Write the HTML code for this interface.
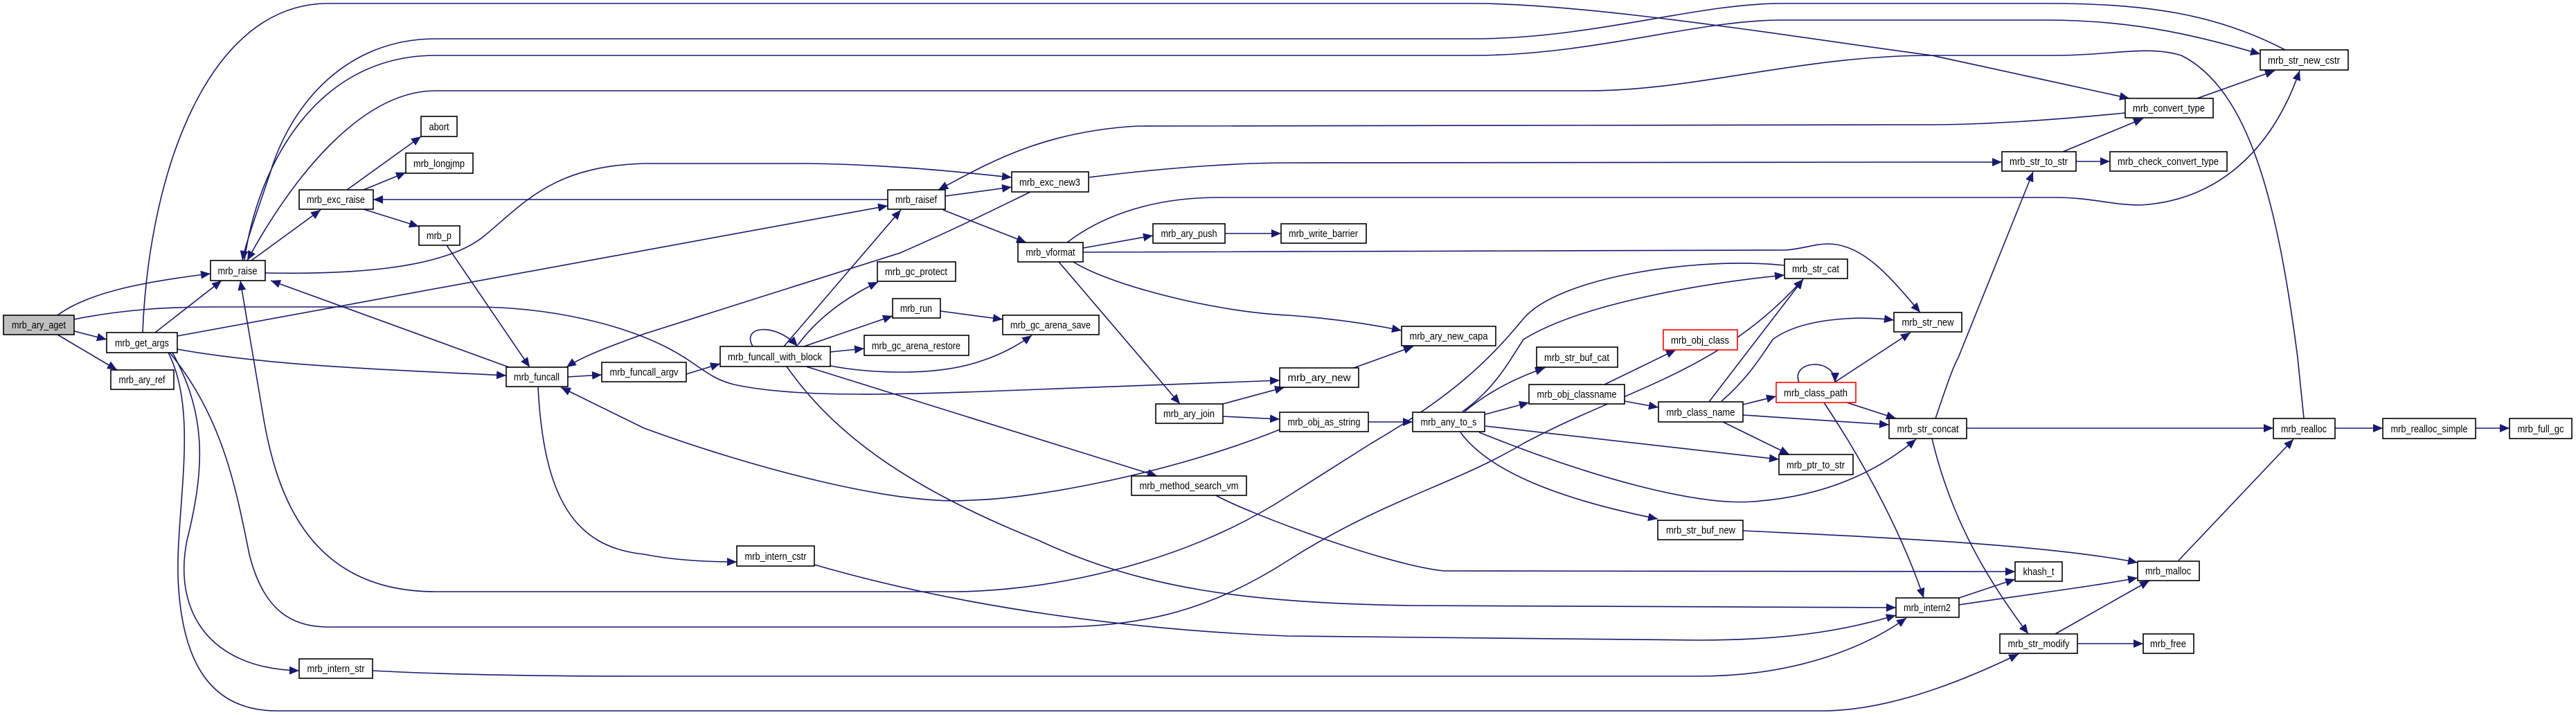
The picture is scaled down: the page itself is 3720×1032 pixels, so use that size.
<!DOCTYPE html>
<html><head><meta charset="utf-8"><style>
html,body{margin:0;padding:0;background:#fff;}
svg{display:block;}
text{font-family:"Liberation Sans",Arial,sans-serif;font-size:15px;fill:#000;}
</style></head><body>
<svg width="3720" height="1032" viewBox="0 0 3720 1032" xmlns="http://www.w3.org/2000/svg">
<defs><marker id="a" markerUnits="userSpaceOnUse" markerWidth="15" markerHeight="12" refX="14" refY="6" orient="auto"><path d="M0,0 L14,6 L0,12 z" fill="#191970"/></marker></defs>
<g fill="none" stroke="#191970" stroke-width="1.6" marker-end="url(#a)">
<path d="M83,455 C130,420 220,405 304,395"/>
<path d="M107,478 L154,490"/>
<path d="M83,483 L169,534"/>
<path d="M107,461 C180,446 250,443 308,443 L682,443 C800,443 900,470 960,500 C1010,525 1020,545 1060,555 C1150,575 1300,570 1500,562 L1848,549"/>
<path d="M224,480 L320,405"/>
<path d="M256,485 L1282,297"/>
<path d="M206,480 C215,250 300,5 474,5 L2127,5 C2300,5 2600,55 2790,80 L3075,142"/>
<path d="M3300,72 C3200,20 3100,5 2956,5 L2572,5 C2450,5 2300,56 2127,56 L629,56 C500,56 420,150 390,250 C370,310 355,350 350,376"/>
<path d="M353,376 C370,250 450,80 629,80 L2127,80 C2300,80 2450,29 2572,29 L2956,29 C3100,29 3200,60 3264,78"/>
<path d="M3327,604 L3318,516 C3290,300 3250,130 3150,80 C3100,65 3050,80 2968,80 L2790,80 C2600,80 2450,131 2293,131 L629,131 C520,131 420,260 357,376"/>
<path d="M363,376 L463,303"/>
<path d="M383,394 C500,396 640,390 700,340 C760,290 800,240 930,236 L1167,236 C1300,238 1400,250 1461,256"/>
<path d="M501,274 L608,197"/>
<path d="M525,274 L586,249"/>
<path d="M525,302 L605,327"/>
<path d="M1282,288 L539,288"/>
<path d="M645,354 L765,530"/>
<path d="M735,530 L391,405"/>
<path d="M1488,277 C1420,310 1380,330 1300,365 L930,482 C880,500 840,515 818,530"/>
<path d="M1848,620 C1700,680 1500,720 1400,722 C1300,730 1100,680 930,618 L810,559"/>
<path d="M820,544 L869,541"/>
<path d="M777,558 C785,720 830,790 930,800 C970,808 1020,811 1064,811"/>
<path d="M991,540 L1040,525"/>
<path d="M256,504 C400,530 600,535 731,542"/>
<path d="M249,509 C300,600 295,680 270,780 C250,880 300,965 432,968"/>
<path d="M245,509 C320,600 340,700 360,800 C380,880 420,905 474,905 L1523,905 C1650,905 1750,880 1860,809 C2000,720 2100,700 2200,640 C2350,560 2480,540 2604,403"/>
<path d="M243,509 C290,600 250,750 258,850 C265,950 300,1026 400,1026 L2631,1026 C2720,1026 2820,990 2915,944"/>
<path d="M2577,383 C2450,370 2250,400 2200,460 C2150,520 2100,570 1980,640 L1860,716 C1700,820 1500,854 1375,854 L629,854 C450,854 400,720 380,600 L347,405"/>
<path d="M538,968 C650,974 800,976 930,976 L2453,976 C2600,976 2700,930 2753,892"/>
<path d="M1176,815 C1400,880 1650,910 1860,918 L2453,924 C2600,924 2680,905 2738,888"/>
<path d="M1136,529 C1200,620 1300,700 1500,780 C1650,850 1800,870 2038,874 L2738,877"/>
<path d="M1164,529 L1671,687"/>
<path d="M1756,715 C1800,740 2000,815 2085,824 L2910,825"/>
<path d="M2517,766 C2700,775 2950,785 3087,812"/>
<path d="M1132,500 L1301,303"/>
<path d="M1152,498 C1180,460 1220,430 1268,407"/>
<path d="M1161,500 L1289,456"/>
<path d="M1199,508 L1248,503"/>
<path d="M1199,528 C1250,538 1350,545 1420,520 C1450,510 1475,495 1490,484"/>
<path d="M1087,500 C1070,470 1120,465 1152,500"/>
<path d="M1358,449 L1448,461"/>
<path d="M1365,283 L1461,270"/>
<path d="M1362,303 L1482,350"/>
<path d="M3069,163 C2950,175 2850,180 2790,180 L1642,182 C1500,190 1420,240 1355,274"/>
<path d="M1572,256 C1700,240 1800,235 1860,235 L2790,234 L2891,234"/>
<path d="M1541,350 C1580,320 1650,285 1760,285 L2968,285 C3020,285 3050,296 3090,296 C3200,290 3280,220 3321,102"/>
<path d="M1564,358 L1665,340"/>
<path d="M1769,337 L1850,337"/>
<path d="M1564,364 L2577,361 C2600,360 2620,352 2640,352 C2690,352 2730,400 2773,451"/>
<path d="M1550,378 C1600,410 1750,450 1860,455 C1930,460 1980,468 2024,477"/>
<path d="M1529,378 L1704,583"/>
<path d="M1766,583 L1855,559"/>
<path d="M1766,601 L1848,605"/>
<path d="M1976,609 L2040,609"/>
<path d="M1955,531 L2041,500"/>
<path d="M2115,594 C2150,565 2190,545 2231,531"/>
<path d="M2145,598 L2208,581"/>
<path d="M2145,615 L2569,663"/>
<path d="M2136,624 C2300,690 2450,730 2530,724 C2620,718 2700,690 2767,634"/>
<path d="M2109,624 C2150,680 2250,720 2394,749"/>
<path d="M2112,594 C2160,560 2180,520 2200,490 C2280,440 2450,410 2577,397"/>
<path d="M2317,555 L2420,505"/>
<path d="M2346,579 L2395,588"/>
<path d="M2517,584 L2565,572"/>
<path d="M2517,599 L2728,613"/>
<path d="M2488,609 L2584,656"/>
<path d="M2468,580 L2604,403"/>
<path d="M2486,579 C2520,550 2540,520 2560,490 C2600,460 2680,455 2735,462"/>
<path d="M2649,552 L2759,480"/>
<path d="M2598,552 C2585,520 2650,515 2650,552"/>
<path d="M2667,581 L2738,604"/>
<path d="M2634,581 C2700,680 2750,780 2778,863"/>
<path d="M2795,604 C2810,560 2820,530 2828,516 L2936,248"/>
<path d="M2840,618 L3283,618"/>
<path d="M2790,633 C2820,760 2880,850 2929,915"/>
<path d="M3372,618 L3441,618"/>
<path d="M3575,618 L3624,618"/>
<path d="M3146,809 L3312,634"/>
<path d="M2829,863 L2910,836"/>
<path d="M2829,873 C2950,855 3030,845 3087,834"/>
<path d="M2968,915 L3104,838"/>
<path d="M3000,929 L3095,929"/>
<path d="M2979,219 L3095,171"/>
<path d="M2998,233 L3047,233"/>
<path d="M3173,142 L3285,102"/>
</g>
<g stroke="#000" stroke-width="1.6" fill="#fff">
<rect x="5" y="455" width="102" height="28" fill="#bfbfbf"/>
<rect x="154" y="480" width="102" height="29"/>
<rect x="160" y="534" width="91" height="28"/>
<rect x="304" y="376" width="79" height="29"/>
<rect x="432" y="274" width="107" height="28"/>
<rect x="608" y="168" width="52" height="29"/>
<rect x="586" y="221" width="97" height="29"/>
<rect x="605" y="326" width="59" height="28"/>
<rect x="731" y="530" width="89" height="28"/>
<rect x="869" y="523" width="122" height="28"/>
<rect x="432" y="951" width="106" height="28"/>
<rect x="1282" y="274" width="83" height="28"/>
<rect x="1461" y="248" width="111" height="29"/>
<rect x="1470" y="350" width="94" height="28"/>
<rect x="1665" y="323" width="104" height="28"/>
<rect x="1850" y="323" width="123" height="28"/>
<rect x="1267" y="378" width="113" height="28"/>
<rect x="1289" y="431" width="69" height="28"/>
<rect x="1448" y="455" width="139" height="28"/>
<rect x="1248" y="484" width="151" height="29"/>
<rect x="1040" y="500" width="159" height="29"/>
<rect x="1669" y="583" width="97" height="28"/>
<rect x="1634" y="687" width="166" height="28"/>
<rect x="1064" y="788" width="112" height="29"/>
<rect x="1848" y="531" width="114" height="28"/>
<rect x="1848" y="595" width="128" height="28"/>
<rect x="2024" y="471" width="136" height="28"/>
<rect x="2577" y="374" width="91" height="28"/>
<rect x="2735" y="451" width="98" height="28"/>
<rect x="2402" y="476" width="107" height="29" stroke="#f00"/>
<rect x="2219" y="501" width="117" height="29"/>
<rect x="2208" y="555" width="138" height="28"/>
<rect x="2040" y="595" width="104" height="28"/>
<rect x="2395" y="580" width="122" height="29"/>
<rect x="2565" y="552" width="115" height="29" stroke="#f00"/>
<rect x="2728" y="604" width="112" height="29"/>
<rect x="2569" y="656" width="107" height="29"/>
<rect x="2394" y="751" width="123" height="28"/>
<rect x="2738" y="863" width="91" height="28"/>
<rect x="3264" y="72" width="127" height="29"/>
<rect x="3069" y="142" width="127" height="28"/>
<rect x="2891" y="219" width="107" height="28"/>
<rect x="3047" y="219" width="169" height="28"/>
<rect x="3283" y="604" width="89" height="29"/>
<rect x="3441" y="604" width="134" height="29"/>
<rect x="3624" y="604" width="90" height="29"/>
<rect x="2910" y="811" width="68" height="28"/>
<rect x="3087" y="810" width="89" height="28"/>
<rect x="2888" y="915" width="112" height="28"/>
<rect x="3095" y="915" width="73" height="28"/>
</g>
<g text-anchor="middle" lengthAdjust="spacingAndGlyphs">
<text x="56" y="474" textLength="78" lengthAdjust="spacingAndGlyphs">mrb_ary_aget</text>
<text x="205" y="500" textLength="78" lengthAdjust="spacingAndGlyphs">mrb_get_args</text>
<text x="205" y="553" textLength="67" lengthAdjust="spacingAndGlyphs">mrb_ary_ref</text>
<text x="343" y="396" textLength="57" lengthAdjust="spacingAndGlyphs">mrb_raise</text>
<text x="485" y="293" textLength="84" lengthAdjust="spacingAndGlyphs">mrb_exc_raise</text>
<text x="634" y="188" textLength="29" lengthAdjust="spacingAndGlyphs">abort</text>
<text x="634" y="241" textLength="74" lengthAdjust="spacingAndGlyphs">mrb_longjmp</text>
<text x="634" y="345" textLength="36" lengthAdjust="spacingAndGlyphs">mrb_p</text>
<text x="775" y="549" textLength="66" lengthAdjust="spacingAndGlyphs">mrb_funcall</text>
<text x="930" y="542" textLength="99" lengthAdjust="spacingAndGlyphs">mrb_funcall_argv</text>
<text x="485" y="970" textLength="83" lengthAdjust="spacingAndGlyphs">mrb_intern_str</text>
<text x="1323" y="293" textLength="60" lengthAdjust="spacingAndGlyphs">mrb_raisef</text>
<text x="1516" y="268" textLength="88" lengthAdjust="spacingAndGlyphs">mrb_exc_new3</text>
<text x="1517" y="369" textLength="71" lengthAdjust="spacingAndGlyphs">mrb_vformat</text>
<text x="1717" y="342" textLength="81" lengthAdjust="spacingAndGlyphs">mrb_ary_push</text>
<text x="1911" y="342" textLength="100" lengthAdjust="spacingAndGlyphs">mrb_write_barrier</text>
<text x="1323" y="397" textLength="90" lengthAdjust="spacingAndGlyphs">mrb_gc_protect</text>
<text x="1323" y="450" textLength="46" lengthAdjust="spacingAndGlyphs">mrb_run</text>
<text x="1517" y="474" textLength="116" lengthAdjust="spacingAndGlyphs">mrb_gc_arena_save</text>
<text x="1323" y="504" textLength="128" lengthAdjust="spacingAndGlyphs">mrb_gc_arena_restore</text>
<text x="1119" y="520" textLength="136" lengthAdjust="spacingAndGlyphs">mrb_funcall_with_block</text>
<text x="1717" y="602" textLength="74" lengthAdjust="spacingAndGlyphs">mrb_ary_join</text>
<text x="1717" y="706" textLength="143" lengthAdjust="spacingAndGlyphs">mrb_method_search_vm</text>
<text x="1120" y="808" textLength="89" lengthAdjust="spacingAndGlyphs">mrb_intern_cstr</text>
<text x="1905" y="550" textLength="91" lengthAdjust="spacingAndGlyphs">mrb_ary_new</text>
<text x="1912" y="614" textLength="105" lengthAdjust="spacingAndGlyphs">mrb_obj_as_string</text>
<text x="2092" y="490" textLength="113" lengthAdjust="spacingAndGlyphs">mrb_ary_new_capa</text>
<text x="2622" y="393" textLength="68" lengthAdjust="spacingAndGlyphs">mrb_str_cat</text>
<text x="2784" y="470" textLength="75" lengthAdjust="spacingAndGlyphs">mrb_str_new</text>
<text x="2455" y="496" textLength="84" lengthAdjust="spacingAndGlyphs">mrb_obj_class</text>
<text x="2277" y="521" textLength="94" lengthAdjust="spacingAndGlyphs">mrb_str_buf_cat</text>
<text x="2277" y="574" textLength="115" lengthAdjust="spacingAndGlyphs">mrb_obj_classname</text>
<text x="2092" y="614" textLength="81" lengthAdjust="spacingAndGlyphs">mrb_any_to_s</text>
<text x="2456" y="600" textLength="99" lengthAdjust="spacingAndGlyphs">mrb_class_name</text>
<text x="2622" y="572" textLength="92" lengthAdjust="spacingAndGlyphs">mrb_class_path</text>
<text x="2784" y="624" textLength="89" lengthAdjust="spacingAndGlyphs">mrb_str_concat</text>
<text x="2622" y="676" textLength="84" lengthAdjust="spacingAndGlyphs">mrb_ptr_to_str</text>
<text x="2456" y="770" textLength="100" lengthAdjust="spacingAndGlyphs">mrb_str_buf_new</text>
<text x="2783" y="882" textLength="68" lengthAdjust="spacingAndGlyphs">mrb_intern2</text>
<text x="3327" y="92" textLength="104" lengthAdjust="spacingAndGlyphs">mrb_str_new_cstr</text>
<text x="3132" y="161" textLength="104" lengthAdjust="spacingAndGlyphs">mrb_convert_type</text>
<text x="2944" y="238" textLength="84" lengthAdjust="spacingAndGlyphs">mrb_str_to_str</text>
<text x="3131" y="238" textLength="146" lengthAdjust="spacingAndGlyphs">mrb_check_convert_type</text>
<text x="3327" y="624" textLength="66" lengthAdjust="spacingAndGlyphs">mrb_realloc</text>
<text x="3508" y="624" textLength="111" lengthAdjust="spacingAndGlyphs">mrb_realloc_simple</text>
<text x="3669" y="624" textLength="67" lengthAdjust="spacingAndGlyphs">mrb_full_gc</text>
<text x="2944" y="830" textLength="45" lengthAdjust="spacingAndGlyphs">khash_t</text>
<text x="3131" y="829" textLength="66" lengthAdjust="spacingAndGlyphs">mrb_malloc</text>
<text x="2944" y="934" textLength="89" lengthAdjust="spacingAndGlyphs">mrb_str_modify</text>
<text x="3131" y="934" textLength="52" lengthAdjust="spacingAndGlyphs">mrb_free</text>
</g>
</svg>
</body></html>
